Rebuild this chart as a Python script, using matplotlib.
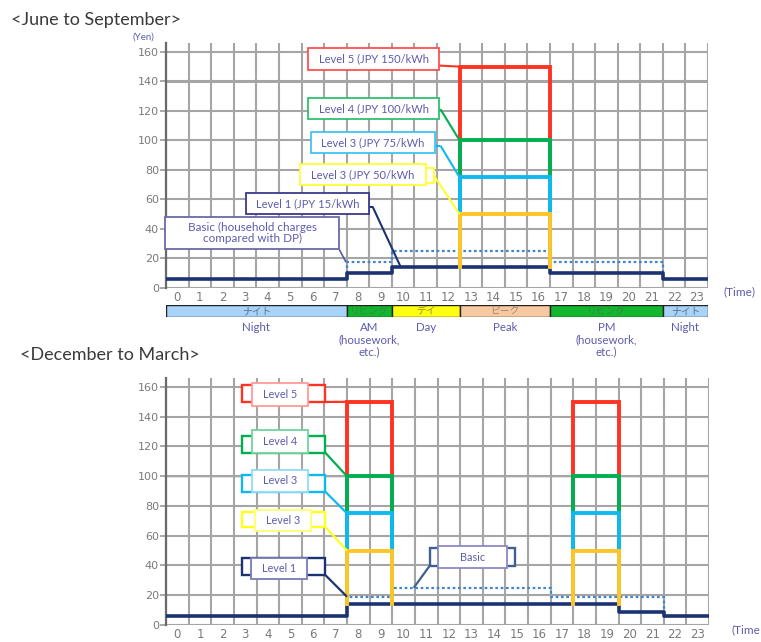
import matplotlib
matplotlib.use('Agg')
import matplotlib.pyplot as plt
import numpy as np
from matplotlib.patches import Rectangle

W, H = 761, 642

# ---------------- data ----------------
hour_labels = [str(h) for h in range(24)]
y_ticks = [0, 20, 40, 60, 80, 100, 120, 140, 160]

level_values = [150, 100, 75, 50]
level_colors = ['#ff3322', '#00b050', '#10b8f0', '#ffc425']

summer_base_edges = [0, 8, 10, 17, 22, 24]
summer_base_vals = [6, 10, 14, 10, 6]
summer_basic_edges = [0, 8, 10, 17, 22, 24]
summer_basic_vals = [6, 17.5, 25, 17.5, 6]
summer_windows = [(13, 17)]

winter_base_edges = [0, 8, 20, 22, 24]
winter_base_vals = [6, 14, 9, 6]
winter_basic_edges = [0, 8, 10, 17, 22, 24]
winter_basic_vals = [6, 19, 25, 19, 6]
winter_windows = [(8, 10), (18, 20)]

period_edges = [0, 8, 10, 13, 17, 22, 24]
period_jp = ['ナイト', 'リビング', 'デイ', 'ピーク', 'リビング', 'ナイト']
period_en = ['Night', 'AM\n(housework,\netc.)', 'Day', 'Peak',
             'PM\n(housework,\netc.)', 'Night']
period_colors = ['#a6d3f7', '#11b82d', '#ffff10', '#f8c9a0', '#11b82d', '#a6d3f7']
period_txt = ['#5a6f8a', '#3f7f45', '#909030', '#a08a78', '#3f7f45', '#5a6f8a']

NAVY = '#1c3372'
BASIC = '#3f86cf'
TXT = '#5c5cae'
GRID = '#a5a5a5'

fig = plt.figure(figsize=(W / 100, H / 100), dpi=100)


def rect_px(left, top, right, bottom):
    return [left / W, 1 - bottom / H, (right - left) / W, (bottom - top) / H]


def step_xy(edges, vals):
    xs = np.repeat(edges, 2)[1:-1]
    ys = np.repeat(vals, 2)
    return xs, ys


def base_at(edges, vals, x):
    for i in range(len(vals)):
        if edges[i] <= x < edges[i + 1]:
            return vals[i]
    return vals[-1]


def setup(ax, ytop):
    ax.set_xlim(0, 24)
    ax.set_ylim(0, ytop)
    ax.set_xticks(np.arange(24) + 0.5)
    ax.set_xticklabels(hour_labels)
    ax.set_xticks(np.arange(25), minor=True)
    ax.set_yticks(y_ticks)
    ax.tick_params(axis='x', which='both', length=0, labelsize=8.5,
                   labelcolor='#7a7a7a', pad=2)
    ax.tick_params(axis='y', length=4, width=1.2, color='#9a9a9a', labelsize=8,
                   labelcolor='#7a7a7a', pad=1)
    ax.grid(which='minor', axis='x', color=GRID, lw=1.5)
    ax.grid(which='major', axis='y', color=GRID, lw=1.5)
    ax.grid(which='major', axis='x', visible=False)
    for s in ['top', 'right', 'bottom']:
        ax.spines[s].set_visible(False)
    ax.spines['left'].set_color('#6a6a6a')
    ax.spines['left'].set_linewidth(1.6)
    ax.set_axisbelow(True)
    for lab in ax.get_xticklabels() + ax.get_yticklabels():
        lab.set_fontfamily('DejaVu Sans')


def draw_series(ax, base_e, base_v, basic_e, basic_v, windows):
    xs, ys = step_xy(basic_e, basic_v)
    ax.plot(xs, ys, color=BASIC, lw=1.6, ls=(0, (1.2, 1.2)), zorder=3)
    xs, ys = step_xy(base_e, base_v)
    ax.plot(xs, ys, color=NAVY, lw=2.6, zorder=4)
    for (a, b) in windows:
        base = base_at(base_e, base_v, a)
        for lv, c in zip(level_values, level_colors):
            ax.plot([a, a, b, b], [base, lv, lv, base], color=c, lw=2.8,
                    zorder=5, solid_joinstyle='miter')


def box(ax, x0, x1, y0, y1, ec, lw=1.3, z=8):
    ax.add_patch(Rectangle((x0, y0), x1 - x0, y1 - y0, fc='white', ec=ec,
                           lw=lw, clip_on=False, zorder=z))


def line(ax, xs, ys, c, lw=1.5):
    ax.plot(xs, ys, color=c, lw=lw, clip_on=False, zorder=7,
            solid_capstyle='butt')


FONT = 'Lato'

# ---------------- titles ----------------
fig.text(11 / W, 1 - 20 / H, '<June to September>', fontsize=13,
         color='#3a3a3a', family=FONT, va='center', ha='left')
fig.text(20 / W, 1 - 355 / H, '<December to March>', fontsize=13,
         color='#3a3a3a', family=FONT, va='center', ha='left')
fig.text(143 / W, 1 - 37 / H, '(Yen)', fontsize=7, color=TXT, family=FONT,
         va='center', ha='center')
fig.text(740 / W, 1 - 292 / H, '(Time)', fontsize=8.5, color=TXT, family=FONT,
         va='center', ha='center')
fig.text(760 / W, 1 - 630 / H, '(Time', fontsize=8.5, color=TXT, family=FONT,
         va='center', ha='right')

# ---------------- top chart ----------------
ax1 = fig.add_axes(rect_px(166, 43, 708, 288))
setup(ax1, 166)
ax1.axvline(6, color='#707070', lw=1.4, zorder=0.5)
ax1.axhline(140, color='#8a8a8a', lw=1.8, zorder=0.5)
draw_series(ax1, summer_base_edges, summer_base_vals, summer_basic_edges,
            summer_basic_vals, summer_windows)

top_boxes = [
    ('Level 5 (JPY 150/kWh', 6.30, 12.10, 147.8, 162.5, '#ff5050', (12.10, 150.7), (13, 150), level_colors[0]),
    ('Level 4 (JPY 100/kWh', 6.30, 12.10, 114.4, 128.6, '#30c070', (12.15, 121.2), (13, 100), level_colors[1]),
    ('Level 3 (JPY 75/kWh', 6.42, 11.91, 91.3, 105.6, '#40c4f4', (12.15, 96.5), (13, 75), level_colors[2]),
    ('Level 3 (JPY 50/kWh', 5.93, 11.50, 69.8, 84.1, '#ffff30', (11.87, 76.0), (13, 50), '#ffff30'),
    ('Level 1 (JPY 15/kWh', 3.53, 9.00, 50.0, 64.2, '#3a3a8a', (9.15, 55.1), (10.4, 14), NAVY),
]
for t, x0, x1, y0, y1, ec, p0, p1, lc in top_boxes:
    line(ax1, [p0[0], p1[0]], [p0[1], p1[1]], lc)
    if p0[0] > x1:
        line(ax1, [x1, p0[0]], [p0[1], p0[1]], lc)
    box(ax1, x0, x1, y0, y1, ec)
    ax1.text((x0 + x1) / 2, (y0 + y1) / 2, t, fontsize=8, color=TXT,
             family=FONT, ha='center', va='center', zorder=9)
ax1.add_patch(Rectangle((11.50, 71.2), 0.37, 10.2, fc='white', ec='#ffff30',
                        lw=1.3, clip_on=False, zorder=7.5))
line(ax1, [7.67, 7.97], [26.2, 17.5], '#5060a0', 1.2)
box(ax1, -0.04, 7.67, 26.2, 48.3, '#6a6aa8')
ax1.text(3.82, 37.2, 'Basic (household charges\ncompared with DP)',
         fontsize=8.4, color=TXT, family=FONT, ha='center', va='center',
         zorder=9, linespacing=1.0)

# ---------------- period bar ----------------
axb = fig.add_axes(rect_px(166, 305, 708, 317))
axb.set_xlim(0, 24)
axb.set_ylim(0, 1)
axb.axis('off')
for i in range(len(period_jp)):
    a, b = period_edges[i], period_edges[i + 1]
    axb.add_patch(Rectangle((a, 0), b - a, 1, fc=period_colors[i],
                            ec='#202020', lw=1.0))
    axb.text((a + b) / 2, 0.5, period_jp[i], fontsize=7, color=period_txt[i],
             family='Noto Sans CJK JP', ha='center', va='center')
    axb.text((a + b) / 2, -0.45, period_en[i], fontsize=8.3, color=TXT,
             family=FONT, ha='center', va='top', linespacing=1.12)

# ---------------- bottom chart ----------------
ax2 = fig.add_axes(rect_px(166, 378, 709, 625))
setup(ax2, 166)
ax2.axvline(2, color='#707070', lw=1.4, zorder=0.5)
ax2.axhline(100, color='#303030', lw=0.9, zorder=0.5)
draw_series(ax2, winter_base_edges, winter_base_vals, winter_basic_edges,
            winter_basic_vals, winter_windows)

bot_boxes = [
    ('Level 5', 3.81, 6.29, 147.4, 162.7, 149.9, 161.3, '#ff9a9a', '#ff3322', (8, 150)),
    ('Level 4', 3.81, 6.29, 115.8, 131.1, 115.8, 127.1, '#70d49a', '#00b050', (8, 100)),
    ('Level 3', 3.81, 6.29, 89.4, 104.2, 89.6, 100.8, '#8fdcf8', '#10b8f0', (8, 75)),
    ('Level 3', 3.94, 6.42, 63.2, 77.3, 65.9, 76.2, '#ffff70', '#ffff20', (8, 50)),
    ('Level 1', 3.75, 6.23, 30.9, 45.0, 33.6, 45.0, '#7a7ab8', NAVY, (8, 19)),
]
bx0, bx1 = 3.35, 7.04
for t, x0, x1, y0, y1, by0, by1, iec, bec, tgt in bot_boxes:
    line(ax2, [bx1, tgt[0]], [by0, tgt[1]], bec, 1.6)
    ax2.add_patch(Rectangle((bx0, by0), bx1 - bx0, by1 - by0, fc='white',
                            ec=bec, lw=1.7, clip_on=False, zorder=7.5))
    box(ax2, x0, x1, y0, y1, iec)
    ax2.text((x0 + x1) / 2, (y0 + y1) / 2, t, fontsize=7.8, color=TXT,
             family=FONT, ha='center', va='center', zorder=9)
line(ax2, [11.65, 10.95], [39.7, 25], '#40608f', 1.6)
ax2.add_patch(Rectangle((11.65, 39.7), 15.42 - 11.65, 51.6 - 39.7, fc='white',
                        ec='#40608f', lw=1.7, clip_on=False, zorder=7.5))
box(ax2, 12.01, 15.08, 38.1, 53.1, '#8a8ac4')
ax2.text(13.55, 45.6, 'Basic', fontsize=7.8, color=TXT, family=FONT,
         ha='center', va='center', zorder=9)

fig.savefig('out.png', dpi=100)
